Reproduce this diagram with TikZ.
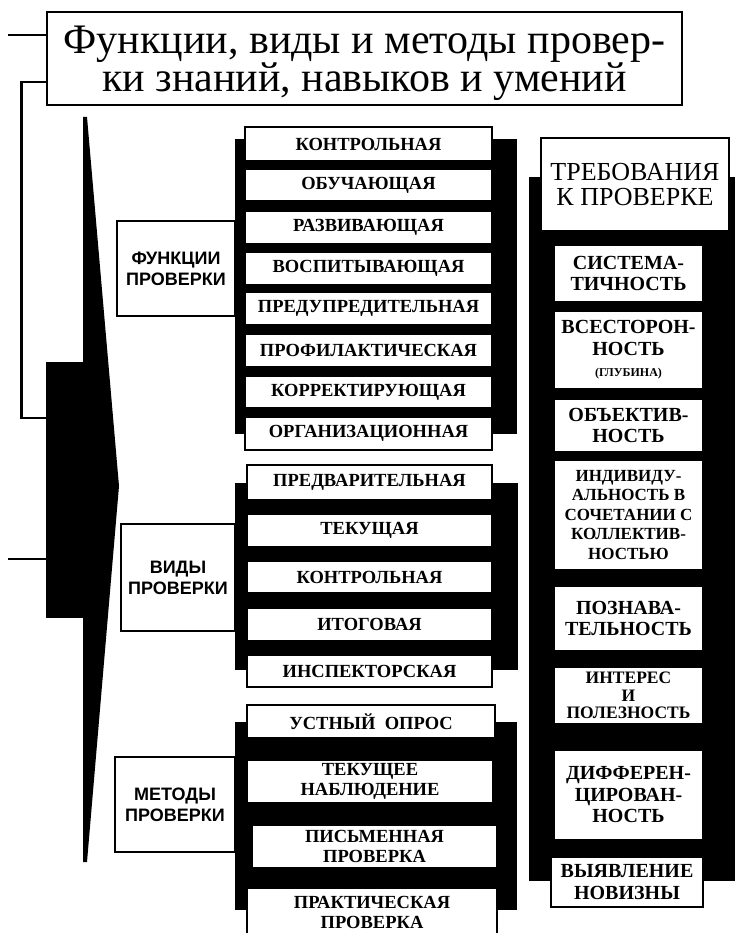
\documentclass[tikz,border=0pt]{standalone}
\usepackage{fontspec}
\setmainfont{Liberation Serif}
\setsansfont{Liberation Sans}
\usetikzlibrary{positioning,calc}

\newcommand{\fsz}[2]{\fontsize{#1}{#2}\selectfont}

\begin{document}
\begin{tikzpicture}[x=1pt, y=-1pt,
  item/.style={draw, line width=1.8pt, fill=white, inner sep=0pt, align=center, minimum width=247, minimum height=32, font=\bfseries\fsz{18.5}{20}},
  req/.style={draw, line width=1.8pt, fill=white, inner sep=0pt, align=center, minimum width=149, font=\bfseries\fsz{20}{21.5}},
  group/.style={draw, line width=1.8pt, fill=white, inner sep=0pt, align=center, font=\sffamily\bfseries\fsz{18}{21}},
  backing/.style={fill=black, inner sep=0pt},
  link/.style={line width=2.6pt},
]
\useasboundingbox (0,0) rectangle (735,933);

% title
\node[draw, line width=2.8pt, minimum width=635, minimum height=93, inner sep=0pt, align=center, font=\fsz{42}{37}] (title) at (364.5,58.5) {\rule{0pt}{37pt}Функции, виды и методы провер-\\ки знаний, навыков и умений};

% black core with wedge
\node[backing, minimum width=39, minimum height=256] (core) at (65.5,490) {};
\fill (83,117) -- (87,117) -- (119,486) -- (87,862) -- (83,862) -- cycle;

\coordinate (topend) at (8,35);
\coordinate (midend) at (8,559);
\draw[link] (topend) -- (topend -| title.west);
\draw[link] ([yshift=-23.5pt]title.west) -- ++(-24,0) |- ([yshift=72pt]core.west);
\draw[link] (midend) -- (midend -| core.west);

% functions
\node[backing, minimum width=282, minimum height=295] (funcbar) at (376,286.5) {};
\node[group, minimum width=118, minimum height=95] (funcs) at (176,268.5) {ФУНКЦИИ\\ПРОВЕРКИ};
\node[item, minimum height=34] (f1) at (368.5,144) {КОНТРОЛЬНАЯ};
\node[item] (f2) at (368.5,185) {ОБУЧАЮЩАЯ};
\node[item] (f3) at (368.5,227.5) {РАЗВИВАЮЩАЯ};
\node[item] (f4) at (368.5,268.5) {ВОСПИТЫВАЮЩАЯ};
\node[item] (f5) at (368.5,308.5) {ПРЕДУПРЕДИТЕЛЬНАЯ};
\node[item] (f6) at (368.5,350.5) {ПРОФИЛАКТИЧЕСКАЯ};
\node[item] (f7) at (368.5,392) {КОРРЕКТИРУЮЩАЯ};
\node[item, minimum height=33] (f8) at (368.5,433.5) {ОРГАНИЗАЦИОННАЯ};

% kinds
\node[backing, minimum width=283, minimum height=187] (kindbar) at (376.5,576.5) {};
\node[group, minimum width=114, minimum height=107] (kinds) at (178,577.5) {ВИДЫ\\ПРОВЕРКИ};
\node[item, minimum width=245, minimum height=35] (v1) at (369.5,482.5) {ПРЕДВАРИТЕЛЬНАЯ};
\node[item, minimum width=245, minimum height=33] (v2) at (369.5,530.5) {ТЕКУЩАЯ};
\node[item, minimum width=245] (v3) at (369.5,577) {КОНТРОЛЬНАЯ};
\node[item, minimum width=245, minimum height=33] (v4) at (369.5,624.5) {ИТОГОВАЯ};
\node[item, minimum width=245] (v5) at (369.5,671) {ИНСПЕКТОРСКАЯ};

% methods
\node[backing, minimum width=282, minimum height=188] (methbar) at (376,816) {};
\node[group, minimum width=120, minimum height=95] (methods) at (175,804.5) {МЕТОДЫ\\ПРОВЕРКИ};
\node[item, minimum width=248, minimum height=33] (m1) at (371,721.5) {УСТНЫЙ\ \ ОПРОС};
\node[item, minimum width=246, minimum height=43] (m2) at (370,781.5) {ТЕКУЩЕЕ\\НАБЛЮДЕНИЕ};
\node[item, minimum width=245, minimum height=43] (m3) at (374.5,846.5) {ПИСЬМЕННАЯ\\ПРОВЕРКА};
\node[item, minimum width=250, minimum height=48] (m4) at (372,912) {ПРАКТИЧЕСКАЯ\\ПРОВЕРКА};

% requirements
\node[backing, minimum width=211, minimum height=704] (reqbar) at (634.5,529) {};
\node[draw, line width=1.8pt, fill=white, minimum width=188, minimum height=93, inner sep=0pt, align=center, font=\fsz{26}{25}] (reqs) at (635,184.5) {ТРЕБОВАНИЯ\\К ПРОВЕРКЕ};
\node[req, minimum height=57] (r1) at (628.5,273.5) {СИСТЕМА-\\ТИЧНОСТЬ};
\node[req, minimum height=78] (r2) at (628.5,350) {ВСЕСТОРОН-\\НОСТЬ\\{\fsz{12}{16}(ГЛУБИНА)}};
\node[req, minimum height=53] (r3) at (628.5,425.5) {ОБЪЕКТИВ-\\НОСТЬ};
\node[req, minimum height=110, font=\bfseries\fsz{17}{19.5}] (r4) at (628.5,515) {ИНДИВИДУ-\\АЛЬНОСТЬ В\\СОЧЕТАНИИ С\\КОЛЛЕКТИВ-\\НОСТЬЮ};
\node[req, minimum height=65] (r5) at (628.5,618.5) {ПОЗНАВА-\\ТЕЛЬНОСТЬ};
\node[req, minimum height=57, font=\bfseries\fsz{17.5}{17.5}] (r6) at (628.5,695.5) {ИНТЕРЕС\\И\\ПОЛЕЗНОСТЬ};
\node[req, minimum height=90] (r7) at (628.5,795) {ДИФФЕРЕН-\\ЦИРОВАН-\\НОСТЬ};
\node[req, minimum width=152, minimum height=50] (r8) at (627,882) {ВЫЯВЛЕНИЕ\\НОВИЗНЫ};
\end{tikzpicture}
\end{document}
